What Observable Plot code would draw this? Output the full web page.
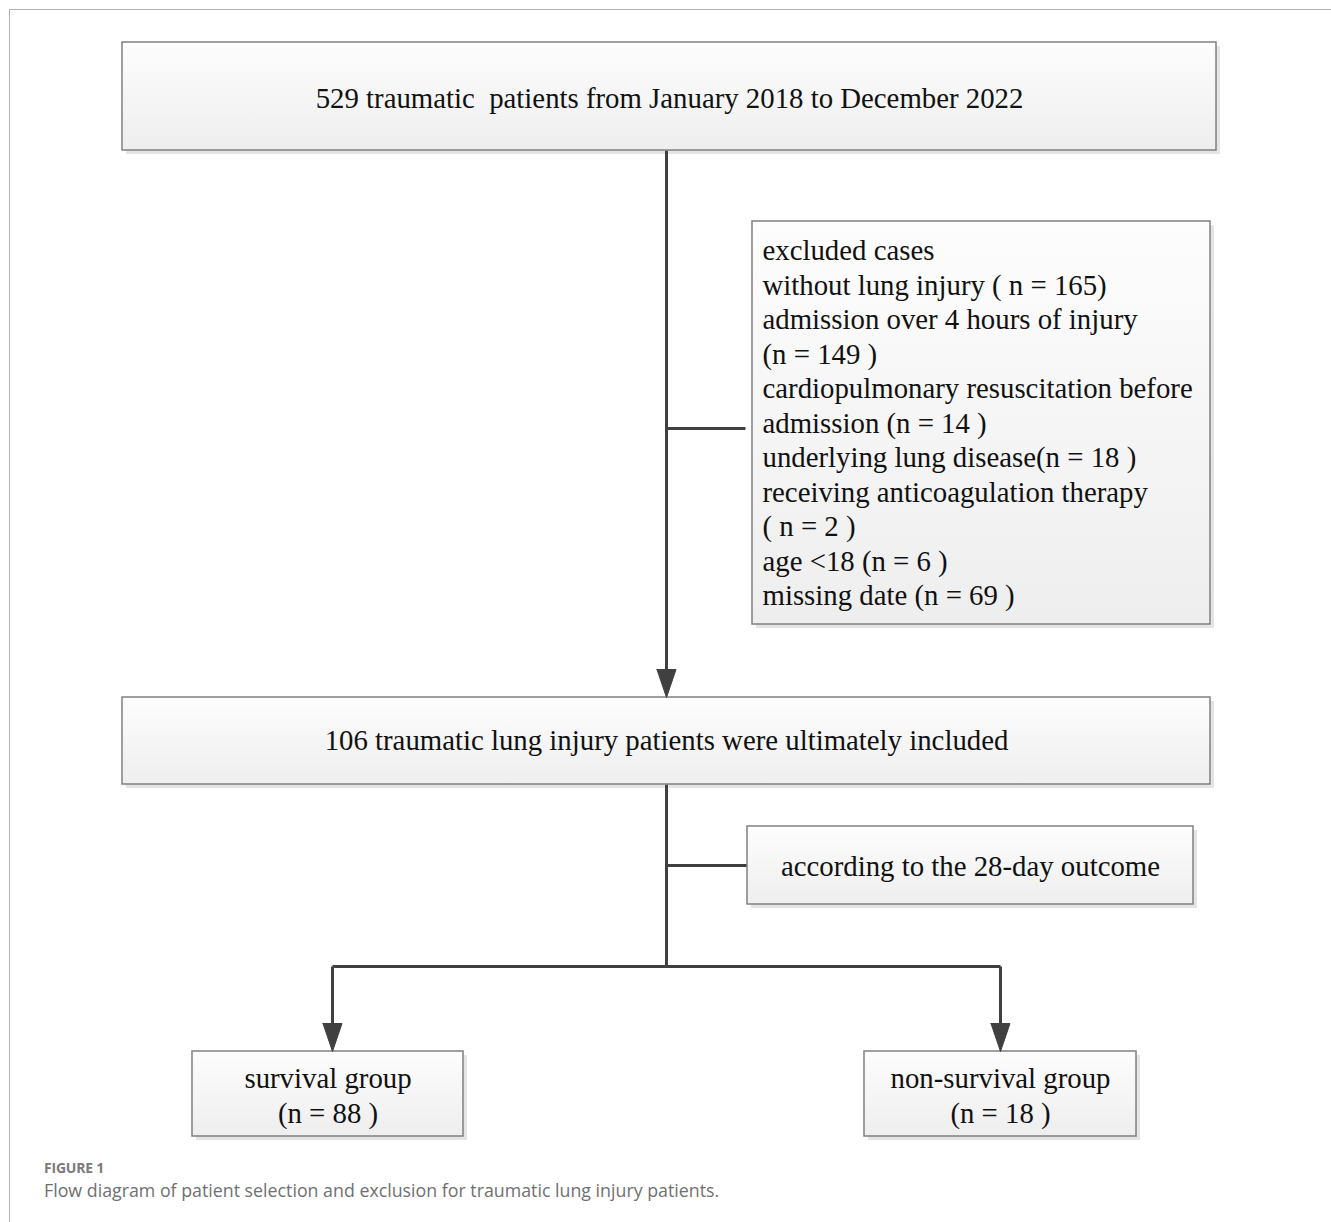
<!DOCTYPE html>
<html>
<head>
<meta charset="utf-8">
<script src="https://cdn.jsdelivr.net/npm/d3@7"></script>
<script src="https://cdn.jsdelivr.net/npm/@observablehq/plot@0.6"></script>
<style>
  html, body { margin: 0; padding: 0; background: #fff; }
  #wrap { position: relative; width: 1331px; height: 1222px; overflow: hidden; }
  #frame { position: absolute; left: 9px; top: 9px; right: -2px; bottom: -2px;
           border-top: 1.5px solid #b0b0b0; border-left: 1.5px solid #b0b0b0; }
  #chart { position: absolute; left: 0; top: 0; }
  #fig { position: absolute; left: 44px; top: 1158px; font-family: "Open Sans", sans-serif;
         font-weight: 700; font-size: 14px; color: #7a7a7a; line-height: 20px; letter-spacing: -0.2px; }
  #cap { position: absolute; left: 44px; top: 1177px; font-family: "Open Sans", sans-serif;
         font-weight: 400; font-size: 17.8px; color: #707070; line-height: 26px; }
  svg text { white-space: pre; }
</style>
</head>
<body>
<div id="wrap">
  <div id="frame"></div>
  <div id="chart"></div>
  <div id="fig">FIGURE 1</div>
  <div id="cap">Flow diagram of patient selection and exclusion for traumatic lung injury patients.</div>
</div>
<script>
// ---- content (text / counts) ----
const topLabel = "529 traumatic  patients from January 2018 to December 2022";
const exclusionLines = [
  "excluded cases",
  "without lung injury ( n = 165)",
  "admission over 4 hours of injury",
  "(n = 149 )",
  "cardiopulmonary resuscitation before",
  "admission (n = 14 )",
  "underlying lung disease(n = 18 )",
  "receiving anticoagulation therapy",
  "( n = 2 )",
  "age <18 (n = 6 )",
  "missing date (n = 69 )"
];
const includedLabel = "106 traumatic lung injury patients were ultimately included";
const splitLabel = "according to the 28-day outcome";
const groupNames = ["survival group", "non-survival group"];
const groupCounts = ["(n = 88 )", "(n = 18 )"];

// ---- layout (pixel geometry of the diagram) ----
const W = 1331, H = 1150;
const layout = {
  top:      {x1: 122, x2: 1216, y1: 42,   y2: 150},
  excl:     {x1: 752, x2: 1210, y1: 221,  y2: 624},
  incl:     {x1: 122, x2: 1210, y1: 697,  y2: 784},
  split:    {x1: 747, x2: 1193, y1: 826,  y2: 904},
  surv:     {x1: 192, x2: 463,  y1: 1051, y2: 1136},
  nonsurv:  {x1: 864, x2: 1136, y1: 1051, y2: 1136},
  spineX: 666, exclY: 428, splitY: 865, branchY: 966,
  leftX: 332, rightX: 1000,
  arrowW: 19, arrowH: 28, lineH: 34.5, font: 28.8
};
const L = layout;
const boxes = [L.top, L.excl, L.incl, L.split, L.surv, L.nonsurv];

const segments = [
  {x1: L.spineX, y1: L.top.y2, x2: L.spineX, y2: L.incl.y1 - L.arrowH + 1},
  {x1: L.spineX, y1: L.exclY, x2: L.excl.x1 - 7, y2: L.exclY},
  {x1: L.spineX, y1: L.incl.y2, x2: L.spineX, y2: L.branchY},
  {x1: L.spineX, y1: L.splitY, x2: L.split.x1, y2: L.splitY},
  {x1: L.leftX, y1: L.branchY, x2: L.rightX, y2: L.branchY},
  {x1: L.leftX, y1: L.branchY, x2: L.leftX, y2: L.surv.y1 - L.arrowH + 1},
  {x1: L.rightX, y1: L.branchY, x2: L.rightX, y2: L.nonsurv.y1 - L.arrowH + 1}
];

const tips = [
  {id: "a", x: L.spineX, y: L.incl.y1},
  {id: "b", x: L.leftX, y: L.surv.y1},
  {id: "c", x: L.rightX, y: L.nonsurv.y1}
];
const arrowPts = tips.flatMap(t => [
  {id: t.id, x: t.x - L.arrowW / 2, y: t.y - L.arrowH},
  {id: t.id, x: t.x + L.arrowW / 2, y: t.y - L.arrowH},
  {id: t.id, x: t.x, y: t.y},
  {id: t.id, x: t.x - L.arrowW / 2, y: t.y - L.arrowH}
]);

const cx = b => (b.x1 + b.x2) / 2, cy = b => (b.y1 + b.y2) / 2;
const centered = [
  {t: topLabel, x: cx(L.top), y: cy(L.top)},
  {t: includedLabel, x: cx(L.incl), y: cy(L.incl) - 2},
  {t: splitLabel, x: cx(L.split), y: cy(L.split) - 1},
  {t: groupNames[0] + "\n" + groupCounts[0], x: cx(L.surv), y: cy(L.surv)},
  {t: groupNames[1] + "\n" + groupCounts[1], x: cx(L.nonsurv), y: cy(L.nonsurv)}
];
const exclText = [{t: exclusionLines.join("\n"), x: L.excl.x1 + 10, y: cy(L.excl) - 1.5}];

const serif = "'Liberation Serif', 'Times New Roman', serif";
const plot = Plot.plot({
  width: W, height: H, margin: 0,
  x: {domain: [0, W], range: [0, W], axis: null},
  y: {domain: [0, H], range: [0, H], axis: null},
  marks: [
    Plot.rect(boxes, {x1: d => d.x1 + 4, x2: d => d.x2 + 4, y1: d => d.y1 + 4, y2: d => d.y2 + 4, fill: "#e4e4e4"}),
    Plot.link(segments, {x1: "x1", y1: "y1", x2: "x2", y2: "y2", stroke: "#404040", strokeWidth: 3}),
    Plot.rect(boxes, {x1: "x1", x2: "x2", y1: "y1", y2: "y2", fill: "url(#boxGrad)", stroke: "#808080", strokeWidth: 1.5}),
    Plot.line(arrowPts, {x: "x", y: "y", z: "id", fill: "#404040", stroke: "#404040", strokeWidth: 1, curve: "linear"}),
    Plot.text(centered, {x: "x", y: "y", text: "t", fontFamily: serif, fontSize: L.font, fill: "#111", lineHeight: 35 / L.font}),
    Plot.text(exclText, {x: "x", y: "y", text: "t", fontFamily: serif, fontSize: L.font, fill: "#111", textAnchor: "start", lineHeight: L.lineH / L.font})
  ]
});
d3.select(plot).insert("defs", ":first-child").html(
  '<linearGradient id="boxGrad" x1="0" y1="0" x2="0" y2="1">' +
  '<stop offset="0" stop-color="#fdfdfd"/><stop offset="1" stop-color="#eeeeee"/></linearGradient>'
);
d3.select(plot).style("background", "transparent");
document.getElementById("chart").appendChild(plot);
</script>
</body>
</html>
